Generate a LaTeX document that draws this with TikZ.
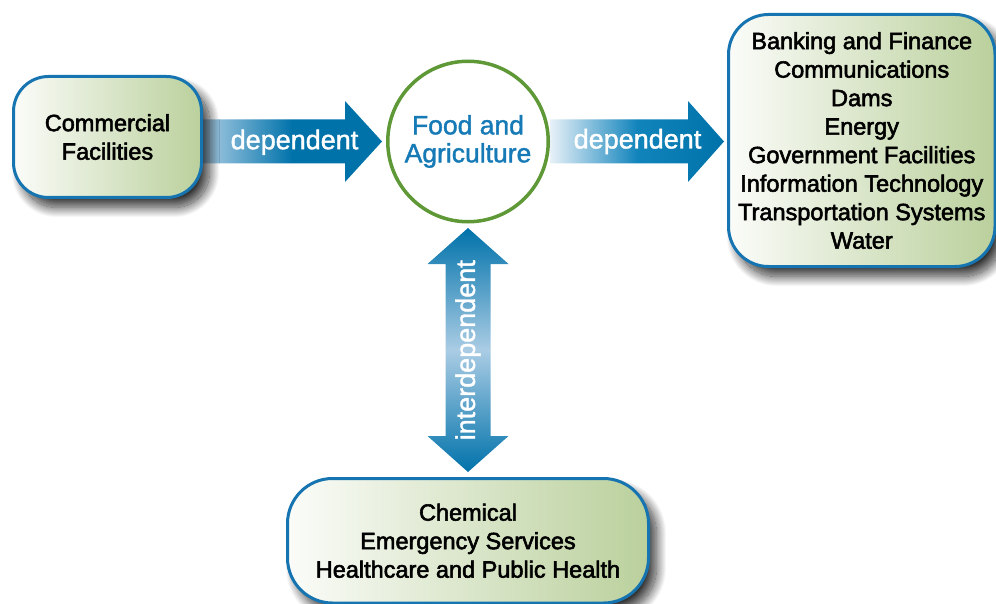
\documentclass[tikz,border=0pt]{standalone}
\usepackage{fontspec}
\setmainfont{Liberation Sans}
\newfontfamily\medfont{Liberation Sans}[FakeBold=2.4]
\newfontfamily\lblfont{Liberation Sans}[FakeBold=1.4]
\usetikzlibrary{calc,shadows.blur}
\definecolor{bdrblue}{RGB}{22,116,176}
\definecolor{boxgreen}{RGB}{186,208,156}
\definecolor{boxwhite}{RGB}{251,252,249}
\definecolor{circgreen}{RGB}{95,152,55}
\definecolor{foodblue}{RGB}{22,122,182}
\definecolor{arrdark}{RGB}{0,114,170}
\definecolor{arrmid}{RGB}{18,132,188}
\definecolor{arrlight}{RGB}{170,204,228}
\definecolor{arrwhite}{RGB}{232,241,248}
\pgfdeclarelayer{bg}
\pgfsetlayers{bg,main}
\tikzset{
  sectorbox/.style={draw=bdrblue, line width=3pt, rounded corners=#1,
    left color=boxwhite, right color=boxgreen, align=center, inner sep=2pt,
    font=\medfont\fontsize{23.5}{28.5}\selectfont,
    blur shadow={shadow xshift=8pt, shadow yshift=-10pt, shadow blur radius=10pt,
      shadow blur steps=24, shadow opacity=80}},
  foodcircle/.style={circle, draw=circgreen, line width=3.5pt, fill=white,
    minimum size=160.5pt, inner sep=0pt, text=foodblue, align=center,
    font=\lblfont\fontsize{26.5}{28}\selectfont},
  arrowlabel/.style={text=white, inner sep=0pt, font=\lblfont\fontsize{27}{28}\selectfont},
  harrowA/.style={left color=arrlight, right color=arrdark, middle color=arrdark},
  harrowB/.style={left color=arrwhite, right color=arrdark, middle color=arrmid},
  varrow/.style={top color=arrdark, bottom color=arrdark, middle color=arrlight}
}
\begin{document}
\begin{tikzpicture}[x=1pt,y=-1pt]
\useasboundingbox (0,0) rectangle (996,604);
% sector nodes
\node[sectorbox=35pt, minimum width=188pt, minimum height=121pt] (cf) at (107.5,137) {Commercial\\Facilities};
\node[foodcircle] (food) at (468,141.5) {Food and\\Agriculture};
\node[sectorbox=40pt, minimum width=266.5pt, minimum height=252pt] (rb) at (861.75,140.5)
  {Banking and Finance\\Communications\\Dams\\Energy\\Government Facilities\\Information Technology\\Transportation Systems\\Water};
\node[sectorbox=45pt, minimum width=361pt, minimum height=124.5pt] (bb) at (468,540.75)
  {Chemical\\Emergency Services\\Healthcare and Public Health};
% connectors (behind the boxes and their shadows)
\begin{pgfonlayer}{bg}
\path[harrowA] let \p1=(cf.east), \p2=(food.west) in
  (\x1,{\y2+22pt}) -- ({\x2-41pt},{\y2+22pt}) -- ({\x2-41pt},{\y2+40.5pt}) --
  ({\x2-4pt},\y2) -- ({\x2-41pt},{\y2-40.5pt}) -- ({\x2-41pt},{\y2-22pt}) --
  (\x1,{\y2-22pt}) -- cycle;
\path[harrowB] let \p1=(food.east), \p2=(rb.west), \p3=(food.center) in
  (\x1,{\y3+22pt}) -- ({\x2-39pt},{\y3+22pt}) -- ({\x2-39pt},{\y3+40.5pt}) --
  ({\x2-3pt},\y3) -- ({\x2-39pt},{\y3-40.5pt}) -- ({\x2-39pt},{\y3-22pt}) --
  (\x1,{\y3-22pt}) -- cycle;
\path[varrow] let \p1=(food.south), \p2=(bb.north) in
  (\x1,{\y1-4.5pt}) -- ({\x1+40.5pt},{\y1-40.5pt}) -- ({\x1+22.5pt},{\y1-40.5pt}) --
  ({\x1+22.5pt},{\y2+41pt}) -- ({\x1+40.5pt},{\y2+41pt}) -- (\x1,{\y2+5pt}) --
  ({\x1-40.5pt},{\y2+41pt}) -- ({\x1-22.5pt},{\y2+41pt}) --
  ({\x1-22.5pt},{\y1-40.5pt}) -- ({\x1-40.5pt},{\y1-40.5pt}) -- cycle;
\end{pgfonlayer}
% connector labels
\node[arrowlabel] (l1) at ($(cf.east)!0.5!(food.west)+(0,3)$) {dependent};
\node[arrowlabel] (l2) at ($(food.east)!0.5!(rb.west|-food.center)+(-1,0)$) {dependent};
\node[arrowlabel, rotate=90] (l3) at ($(food.south)!0.5!(bb.north)$) {interdependent};
\end{tikzpicture}
\end{document}
